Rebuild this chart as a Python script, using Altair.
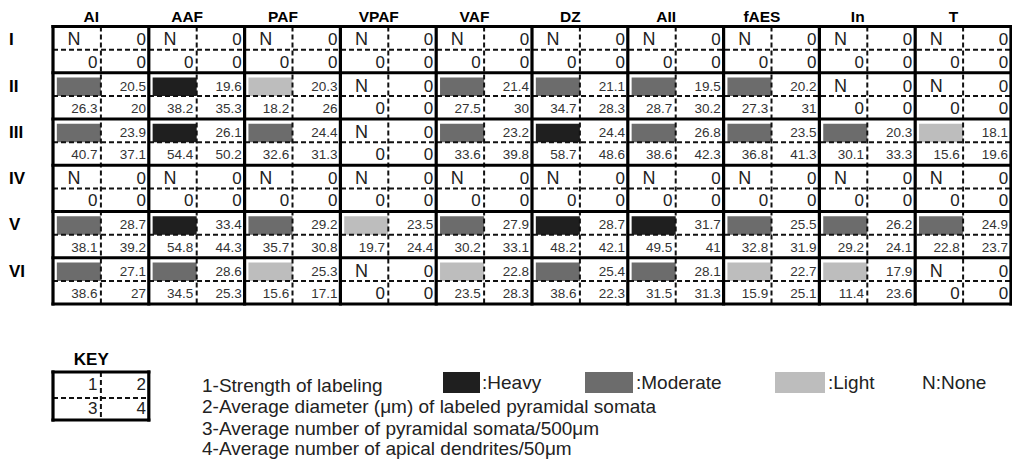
import altair as alt
import pandas as pd

areas = ["AI", "AAF", "PAF", "VPAF", "VAF", "DZ", "AII", "fAES", "In", "T"]
layers = ["I", "II", "III", "IV", "V", "VI"]

# 1 - strength of labeling: H heavy, M moderate, L light, N none
strength = [
    ["N", "N", "N", "N", "N", "N", "N", "N", "N", "N"],
    ["M", "H", "L", "N", "M", "M", "M", "M", "N", "N"],
    ["M", "H", "M", "N", "M", "H", "M", "M", "M", "L"],
    ["N", "N", "N", "N", "N", "N", "N", "N", "N", "N"],
    ["M", "H", "M", "L", "M", "H", "H", "M", "M", "M"],
    ["M", "M", "L", "N", "L", "M", "M", "L", "L", "N"],
]
# 2 - average diameter (um) of labeled pyramidal somata
diameter = [
    [0, 0, 0, 0, 0, 0, 0, 0, 0, 0],
    [20.5, 19.6, 20.3, 0, 21.4, 21.1, 19.5, 20.2, 0, 0],
    [23.9, 26.1, 24.4, 0, 23.2, 24.4, 26.8, 23.5, 20.3, 18.1],
    [0, 0, 0, 0, 0, 0, 0, 0, 0, 0],
    [28.7, 33.4, 29.2, 23.5, 27.9, 28.7, 31.7, 25.5, 26.2, 24.9],
    [27.1, 28.6, 25.3, 0, 22.8, 25.4, 28.1, 22.7, 17.9, 0],
]
# 3 - average number of pyramidal somata / 500um
somata = [
    [0, 0, 0, 0, 0, 0, 0, 0, 0, 0],
    [26.3, 38.2, 18.2, 0, 27.5, 34.7, 28.7, 27.3, 0, 0],
    [40.7, 54.4, 32.6, 0, 33.6, 58.7, 38.6, 36.8, 30.1, 15.6],
    [0, 0, 0, 0, 0, 0, 0, 0, 0, 0],
    [38.1, 54.8, 35.7, 19.7, 30.2, 48.2, 49.5, 32.8, 29.2, 22.8],
    [38.6, 34.5, 15.6, 0, 23.5, 38.6, 31.5, 15.9, 11.4, 0],
]
# 4 - average number of apical dendrites / 50um
dendrites = [
    [0, 0, 0, 0, 0, 0, 0, 0, 0, 0],
    [20, 35.3, 26, 0, 30, 28.3, 30.2, 31, 0, 0],
    [37.1, 50.2, 31.3, 0, 39.8, 48.6, 42.3, 41.3, 33.3, 19.6],
    [0, 0, 0, 0, 0, 0, 0, 0, 0, 0],
    [39.2, 44.3, 30.8, 24.4, 33.1, 42.1, 41, 31.9, 24.1, 23.7],
    [27, 25.3, 17.1, 0, 28.3, 22.3, 31.3, 25.1, 23.6, 0],
]

levels = ["H", "M", "L"]
level_names = [":Heavy", ":Moderate", ":Light"]
level_colors = ["#1f1f1f", "#6c6c6c", "#bdbdbd"]
key_lines = [
    "1-Strength of labeling",
    "2-Average diameter (\u03bcm) of labeled pyramidal somata",
    "3-Average number of pyramidal somata/500\u03bcm",
    "4-Average number of apical dendrites/50\u03bcm",
]

FONT = "Liberation Sans"
W, H = 1004, 451
COLW, ROWH = 95.8, 46.25
X0, Y0 = 45.0, 18.5  # table origin inside plot area (px)
xs = alt.Scale(domain=[-X0 / COLW, (W - X0) / COLW], nice=False, zero=False)
ys = alt.Scale(domain=[-Y0 / ROWH, (H - Y0) / ROWH], nice=False, zero=False, reverse=True)


def px(p):
    """page pixel -> column units (layout helper)"""
    return (p - 8 - X0) / COLW


def py(p):
    """page pixel -> row units (layout helper)"""
    return (p - 8 - Y0) / ROWH


def fmt(v):
    return str(int(v)) if float(v).is_integer() else f"{v}"


def X(f="x"):
    return alt.X(f"{f}:Q", scale=xs, axis=None)


def Y(f="y"):
    return alt.Y(f"{f}:Q", scale=ys, axis=None)


nr, nc = len(layers), len(areas)

# ---- cells ----
rects, big, small, ncells = [], [], [], []
for r in range(nr):
    for c in range(nc):
        s = strength[r][c]
        if s in levels:
            rects.append(dict(x=c + 0.04, x2=c + 0.5, y=r + 0.1, y2=r + 0.5, lvl=s))
        else:
            ncells.append(dict(x=c + 0.22, y=r + 0.3, t="N"))
        for xx, yy, v in [(c + 0.97, r + 0.3, diameter[r][c]),
                          (c + 0.465, r + 0.78, somata[r][c]),
                          (c + 0.97, r + 0.78, dendrites[r][c])]:
            t = fmt(v)
            (big if t == "0" else small).append(dict(x=xx, y=yy, t=t))

# key box
K0, K1 = py(372), py(420)
KM = py(398)
for xx, yy, t in [(0.465, py(385), "1"), (0.97, py(385), "2"),
                  (0.465, py(409), "3"), (0.97, py(409), "4")]:
    big.append(dict(x=xx, y=yy, t=t))

# swatches
sw_x = [(443, 480), (585, 633), (775, 825)]
for (a, b), lv in zip(sw_x, levels):
    rects.append(dict(x=px(a), x2=px(b), y=py(372), y2=py(393), lvl=lv))

rect_df = pd.DataFrame(rects)
color = alt.Color("lvl:N", scale=alt.Scale(domain=levels, range=level_colors), legend=None)
rect_layer = alt.Chart(rect_df).mark_rect().encode(
    x=X(), x2="x2", y=Y(), y2="y2", color=color)

# ---- lines ----
thick, dashed = [], []
for c in range(nc + 1):
    thick.append(dict(x=c, x2=c, y=0, y2=nr))
for r in range(nr + 1):
    thick.append(dict(x=0, x2=nc, y=r, y2=r))
for r in range(nr):
    dashed.append(dict(x=0, x2=nc, y=r + 0.5, y2=r + 0.5))
for c in range(nc):
    dashed.append(dict(x=c + 0.5, x2=c + 0.5, y=0, y2=nr))
# key box lines
thick += [dict(x=0, x2=1, y=K0, y2=K0), dict(x=0, x2=1, y=K1, y2=K1),
          dict(x=0, x2=0, y=K0, y2=K1), dict(x=1, x2=1, y=K0, y2=K1)]
dashed += [dict(x=0, x2=1, y=KM, y2=KM), dict(x=0.5, x2=0.5, y=K0, y2=K1)]

dash_layer = alt.Chart(pd.DataFrame(dashed)).mark_rule(
    color="#111", strokeWidth=2, strokeDash=[5, 3]).encode(x=X(), x2="x2", y=Y(), y2="y2")
thick_layer = alt.Chart(pd.DataFrame(thick)).mark_rule(
    color="#000", strokeWidth=3.2, strokeCap="square").encode(x=X(), x2="x2", y=Y(), y2="y2")

big_layer = alt.Chart(pd.DataFrame(big)).mark_text(
    align="right", baseline="middle", font=FONT, fontSize=17, color="#222").encode(
    x=X(), y=Y(), text="t:N")
small_layer = alt.Chart(pd.DataFrame(small)).mark_text(
    align="right", baseline="middle", font=FONT, fontSize=13.5, color="#333").encode(
    x=X(), y=Y(), text="t:N")
n_layer = alt.Chart(pd.DataFrame(ncells)).mark_text(
    align="center", baseline="middle", font=FONT, fontSize=18, color="#222").encode(
    x=X(), y=Y(), text="t:N")

# headers
head_df = pd.DataFrame(dict(x=[c + 0.4 for c in range(nc)], y=[py(22)] * nc, t=areas))
head_layer = alt.Chart(head_df).mark_text(
    align="center", baseline="alphabetic", font=FONT, fontSize=15.5, fontWeight="bold", color="#000").encode(
    x=X(), y=Y(), text="t:N")
row_df = pd.DataFrame(dict(x=[-0.46] * nr, y=[r + 0.3 for r in range(nr)], t=layers))
row_layer = alt.Chart(row_df).mark_text(
    align="left", baseline="middle", font=FONT, fontSize=17, fontWeight="bold", color="#000").encode(
    x=X(), y=Y(), text="t:N")
keyt_layer = alt.Chart(pd.DataFrame(dict(x=[0.4], y=[py(360)], t=["KEY"]))).mark_text(
    align="center", baseline="middle", font=FONT, fontSize=17, fontWeight="bold", color="#000").encode(
    x=X(), y=Y(), text="t:N")

# legend text
leg_df = pd.DataFrame(dict(x=[px(202)] * 4, y=[py(392), py(413), py(435), py(455)], t=key_lines))
lab_df = pd.DataFrame(dict(x=[px(482), px(636), px(828), px(922)], y=[py(389)] * 4,
                           t=level_names + ["N:None"]))
leg_layer = alt.Chart(pd.concat([leg_df, lab_df])).mark_text(
    align="left", baseline="alphabetic", font=FONT, fontSize=19, color="#222").encode(
    x=X(), y=Y(), text="t:N")

chart = alt.layer(
    rect_layer, dash_layer, thick_layer, big_layer, small_layer, n_layer,
    head_layer, row_layer, keyt_layer, leg_layer,
).properties(
    width=W, height=H, autosize=alt.AutoSizeParams(type="none"), padding=0,
).configure_view(stroke=None)

chart.save("out.html", embed_options={"renderer": "svg", "actions": False})
